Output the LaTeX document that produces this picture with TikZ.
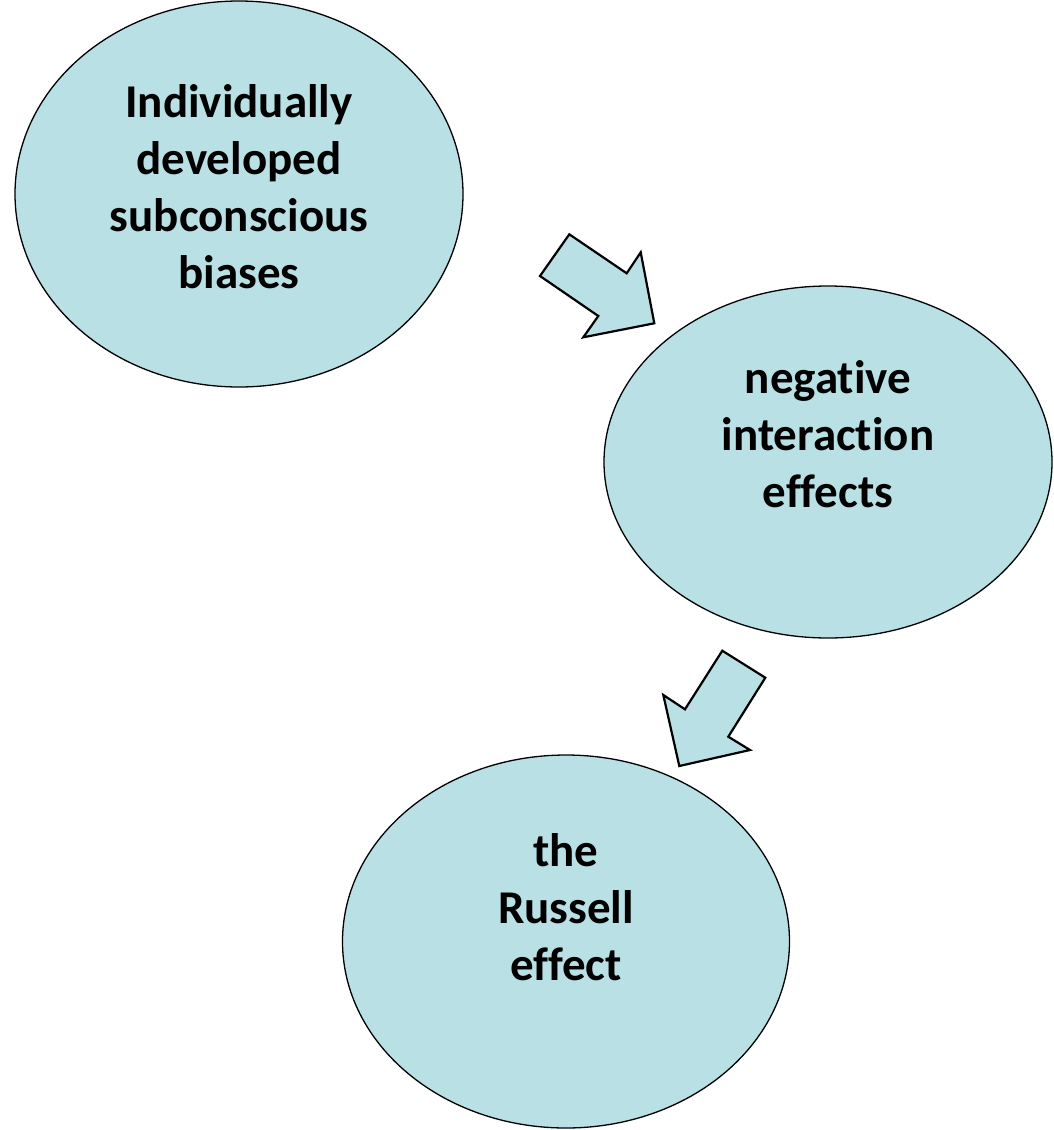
\documentclass[tikz,border=0pt]{standalone}
\usepackage{fontspec}
\setmainfont{Carlito}[Ligatures={NoCommon,TeX}]
\usetikzlibrary{shapes.geometric}
\definecolor{bubble}{RGB}{185,224,228}
\tikzset{
  bubble/.style={ellipse, draw=black, line width=1.3pt, fill=bubble, inner sep=0pt},
  blockarrow/.style={draw=black, line width=2.2pt, fill=bubble, line join=miter},
  label/.style={anchor=base, inner sep=0pt, font=\fontsize{47}{57}\selectfont\bfseries}
}
\begin{document}
\begin{tikzpicture}[x=1pt, y=-1pt]
  \useasboundingbox (0,0) rectangle (1054,1130);

  % the three bubbles
  \node[bubble, minimum width=448pt, minimum height=386pt] (biases) at (239,194) {};
  \node[bubble, minimum width=448pt, minimum height=352pt] (interact) at (828,462) {};
  \node[bubble, minimum width=447pt, minimum height=373pt] (russell) at (566,941.5) {};

  % bubble texts, one line per node
  \foreach \t [count=\i] in {Individually,developed,subconscious,biases}
    \node[label] (b\i) at (239,{117+57*(\i-1)}) {\t};
  \foreach \t [count=\i] in {negative,interaction,effects}
    \node[label] (n\i) at (828,{393+57*(\i-1)}) {\t};
  \foreach \t [count=\i] in {the,Russell,effect}
    \node[label] (r\i) at (566,{866+57*(\i-1)}) {\t};

  % block arrows between the bubbles
  \filldraw[blockarrow] (569.3,234.3) -- (540,276) -- (598.3,316) -- (583.3,337.3)
    -- (654.3,323.3) -- (640.7,252.3) -- (626.7,273.3) -- cycle;
  \filldraw[blockarrow] (722.3,650.7) -- (765.3,677.7) -- (728.3,736.7) -- (750,750)
    -- (679.3,766) -- (663.3,695) -- (685,709.3) -- cycle;
\end{tikzpicture}
\end{document}
